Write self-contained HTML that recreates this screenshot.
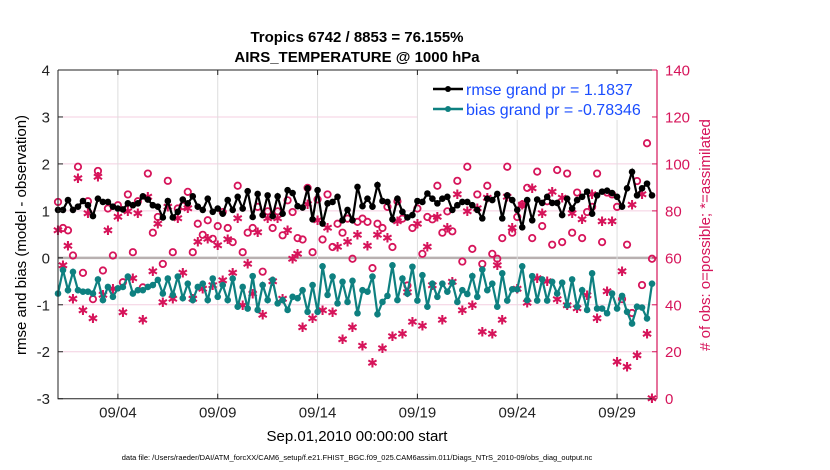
<!DOCTYPE html>
<html><head><meta charset="utf-8"><style>
body{margin:0;background:#fff;}
svg{display:block;font-family:"Liberation Sans",Arial,sans-serif;}
</style></head><body>
<svg id="chart" width="830" height="470" viewBox="0 0 830 470">
<rect x="0" y="0" width="830" height="470" fill="#fff"/>
<g id="grid"></g>
<g id="marks"></g>
<g id="axes"></g>
<g>
  <rect x="418" y="74" width="234" height="46" fill="#fff"/>
  <g>
    <line x1="433" y1="89" x2="463" y2="89" stroke="#000" stroke-width="2.5"/>
    <circle cx="448" cy="89" r="3" fill="#000"/>
    <text x="466" y="95" font-size="16" fill="#1a4dff">rmse grand pr = 1.1837</text>
  </g>
  <g>
    <line x1="433" y1="109" x2="463" y2="109" stroke="#0e8080" stroke-width="2.5"/>
    <circle cx="448" cy="109" r="3" fill="#0e8080"/>
    <text x="466" y="115" font-size="16" fill="#1a4dff">bias grand pr = -0.78346</text>
  </g>
</g>
<text x="357" y="42" font-size="15" font-weight="bold" text-anchor="middle">Tropics 6742 / 8853 = 76.155%</text>
<text x="357" y="62" font-size="15" font-weight="bold" text-anchor="middle">AIRS_TEMPERATURE @ 1000 hPa</text>
<text x="357" y="441" font-size="15" text-anchor="middle">Sep.01,2010 00:00:00 start</text>
<text x="357" y="460" font-size="7.5" text-anchor="middle">data file: /Users/raeder/DAI/ATM_forcXX/CAM6_setup/f.e21.FHIST_BGC.f09_025.CAM6assim.011/Diags_NTrS_2010-09/obs_diag_output.nc</text>
<text transform="translate(26,235) rotate(-90)" font-size="15" text-anchor="middle">rmse and bias (model - observation)</text>
<text transform="translate(710,235) rotate(-90)" font-size="15" text-anchor="middle" fill="#d6145a"># of obs: o=possible; *=assimilated</text>
</svg>
<script>
const rmse = [1.02,1.02,1.23,1.02,1.09,1.21,1.12,0.89,1.26,1.19,1.19,1.09,1.05,1.03,1.16,1.12,1.16,1.31,1.24,1.12,1.09,0.86,1.21,0.86,0.98,1.24,1.16,1.31,1.09,1.02,1.26,
0.98,1.05,0.94,1.23,1.02,1.30,1.05,1.42,0.87,1.36,0.91,1.33,0.89,1.31,0.94,1.44,1.38,1.10,1.07,1.48,0.82,1.44,0.73,1.16,1.19,1.30,0.80,1.02,0.80,1.51,
1.10,1.26,1.09,1.55,1.21,1.19,0.82,1.26,0.98,0.86,0.91,1.21,1.19,1.37,1.26,1.16,1.26,1.30,1.02,1.12,1.19,1.19,1.12,1.02,0.84,1.26,1.23,1.36,
0.84,1.33,1.23,1.02,0.65,1.23,0.80,1.24,1.17,1.30,1.17,1.17,0.91,1.26,1.05,1.23,1.30,1.41,0.94,1.33,1.41,1.43,1.38,1.30,1.09,1.48,1.83,1.33,1.48,1.58,1.33];
const bias = [-0.76,-0.26,-0.69,-0.30,-0.69,-0.72,-0.72,-0.76,-0.46,-0.90,-0.62,-0.83,-0.65,-0.62,-0.40,-0.76,-0.69,-0.69,-0.62,-0.58,-0.47,-0.76,-0.44,-0.79,-0.40,-0.86,-0.55,-0.90,-0.62,-0.55,-0.90,
-0.44,-0.83,-0.58,-0.90,-0.44,-1.04,-0.62,-1.08,-0.39,-1.11,-0.58,-0.90,-0.47,-0.97,-0.90,-1.11,-0.83,-0.86,-0.69,-1.15,-0.58,-1.15,-0.18,-0.79,-0.40,-0.97,-0.51,-0.94,-0.49,-1.18,
-0.69,-0.72,-0.40,-1.20,-0.94,-0.81,-0.16,-0.90,-0.44,-0.76,-0.19,-0.91,-0.37,-1.04,-0.55,-0.83,-0.55,-0.72,-0.53,-0.94,-0.69,-0.77,-0.39,-0.83,-0.25,-0.69,-0.55,-1.04,
-0.33,-0.91,-0.67,-0.67,-0.18,-0.90,-0.39,-0.91,-0.46,-0.91,-0.51,-0.76,-0.53,-1.01,-0.46,-1.04,-0.69,-1.11,-0.33,-1.08,-1.08,-1.18,-0.76,-1.08,-0.81,-1.15,-1.40,-1.04,-1.06,-1.29,-0.55];
const nPossible = [83.8,72.7,71.7,61.0,98.8,53.6,84.1,42.4,97.0,54.6,81.0,61.0,82.4,49.6,87.0,62.4,84.1,47.4,95.9,70.7,77.4,57.4,92.8,62.4,81.0,82.1,88.1,62.4,74.5,69.8,76.0,
68.1,73.5,79.5,72.7,66.7,90.7,62.4,70.7,72.7,81.7,54.1,79.8,72.7,79.8,69.6,84.5,79.5,68.4,67.8,89.8,62.4,84.9,67.8,87.0,64.6,74.5,70.7,76.7,59.6,75.3,
76.7,75.3,55.6,74.5,72.7,81.7,64.6,84.1,76.7,48.2,72.7,81.0,61.7,77.4,76.4,90.7,70.7,79.8,71.3,92.8,58.4,98.8,63.8,87.0,57.4,90.7,61.7,59.6,
68.4,98.8,70.7,77.4,82.7,89.8,68.4,96.7,73.5,84.1,65.6,97.4,66.7,95.9,70.7,87.8,68.4,79.5,81.7,95.9,66.7,87.8,87.0,81.7,42.4,65.6,36.5,92.7,48.4,108.8,59.6];
const nAssim = [71.7,56.7,65.0,42.4,93.8,37.5,78.8,34.2,94.5,44.2,71.7,46.7,77.4,36.7,79.8,51.3,78.8,33.6,86.0,54.1,74.5,41.0,81.7,42.4,76.7,53.6,81.0,42.4,66.7,46.7,68.1,
48.2,65.3,50.3,67.8,53.6,76.7,39.6,57.4,44.6,70.7,35.6,76.7,49.9,76.7,42.4,71.7,59.6,61.7,30.3,82.7,34.2,76.0,37.5,72.7,36.7,64.6,25.3,66.7,30.3,69.8,
22.5,65.0,15.3,69.8,21.3,68.4,26.5,75.5,27.5,45.3,32.7,74.5,31.0,64.6,48.2,77.4,33.6,72.7,49.6,87.0,37.5,79.8,39.6,81.0,28.5,85.5,27.5,56.7,
33.6,86.0,72.7,46.7,82.4,40.7,89.5,51.3,78.8,49.9,88.1,42.2,85.5,39.6,78.8,38.5,76.4,43.9,87.0,34.2,75.5,45.6,75.5,15.6,54.1,13.6,82.4,18.5,87.0,27.5,0];
const xTickDays = [3,8,13,18,23,28];
const xTickLabels = ["09/04","09/09","09/14","09/19","09/24","09/29"];
const yTicks = [4,3,2,1,0,-1,-2,-3];
const y2Ticks = [0,20,40,60,80,100,120,140];

const NS="http://www.w3.org/2000/svg";
const L=58,R=657,T=70,B=398.7;
const xS=d=>L+(d/30)*(R-L);
const yS=v=>T+(4-v)/7*(B-T);
const y2S=v=>B-(v/140)*(B-T);
const PINK="#d6145a", TEAL="#0e8080";
function mk(tag,attrs,parent){const e=document.createElementNS(NS,tag);for(const k in attrs)e.setAttribute(k,attrs[k]);parent.appendChild(e);return e;}
const grid=document.getElementById('grid'),marks=document.getElementById('marks'),axes=document.getElementById('axes');

yTicks.forEach(v=>{ if(v===4||v===-3)return;
  const g=mk('line',{x1:L,x2:R,y1:yS(v),y2:yS(v),stroke:v===0?'#b8b0b0':'#f4cfe0','stroke-width':v===0?2.5:1},grid);
  
  
});
xTickDays.forEach(d=>{
  const g=mk('line',{x1:xS(d),x2:xS(d),y1:T,y2:B,stroke:'#dddddd','stroke-width':1},grid);
  
  
});

function day(i){return i*0.25;}
nPossible.forEach((v,i)=>{
  const c=mk('circle',{cx:xS(day(i)),cy:y2S(v),r:3.2,fill:'none',stroke:PINK,'stroke-width':1.8},marks);
  
  
});
nAssim.forEach((v,i)=>{
  const x=xS(day(i)),y=y2S(v);
  const t=mk('text',{x:x,y:y+4.5,'font-size':13,'text-anchor':'middle',fill:PINK},marks);
  t.textContent='\u2731';
  
  
});
function series(arr,color,name){
  const pts=arr.map((v,i)=>xS(day(i)).toFixed(1)+','+yS(v).toFixed(1)).join(' ');
  const pl=mk('polyline',{points:pts,fill:'none',stroke:color,'stroke-width':2.2},marks);
  
  
  arr.forEach((v,i)=>{
    const c=mk('circle',{cx:xS(day(i)),cy:yS(v),r:3.3,fill:color},marks);
    
    
  });
}
series(rmse,'#000','rmse');
series(bias,TEAL,'bias');

const f1=mk('path',{d:`M${L},${T} L${R},${T} M${L},${T} L${L},${B} L${R},${B}`,stroke:'#222',fill:'none','stroke-width':1},axes);


const f2=mk('line',{x1:R,x2:R,y1:T,y2:B,stroke:PINK,'stroke-width':1.2},axes);


yTicks.forEach(v=>{
  mk('line',{x1:L,x2:L+5,y1:yS(v),y2:yS(v),stroke:'#222'},axes);
  const t=mk('text',{x:L-8,y:yS(v)+5.5,'font-size':15,'text-anchor':'end',fill:'#222'},axes);
  t.textContent=String(v);
  
  
});
y2Ticks.forEach(v=>{
  mk('line',{x1:R-5,x2:R,y1:y2S(v),y2:y2S(v),stroke:PINK},axes);
  const t=mk('text',{x:R+8,y:y2S(v)+5.5,'font-size':15,fill:PINK},axes);
  t.textContent=String(v);
  
  
});
xTickDays.forEach((d,k)=>{
  mk('line',{x1:xS(d),x2:xS(d),y1:B,y2:B-5,stroke:'#222'},axes);
  mk('line',{x1:xS(d),x2:xS(d),y1:T,y2:T+5,stroke:'#222'},axes);
  const t=mk('text',{x:xS(d),y:B+19,'font-size':15,'text-anchor':'middle',fill:'#222'},axes);
  t.textContent=xTickLabels[k];
  
  
});
</script>
</body></html>
